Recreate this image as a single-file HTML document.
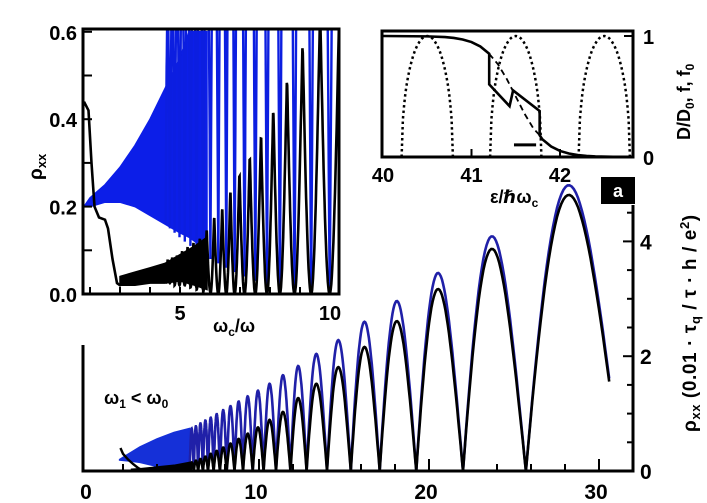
<!DOCTYPE html>
<html><head><meta charset="utf-8"><style>
html,body{margin:0;padding:0;background:#fff;}
svg{display:block;font-family:"Liberation Sans","DejaVu Sans",sans-serif;font-weight:bold;}
</style></head><body>
<svg id="fig" width="707" height="503" viewBox="0 0 707 503" xmlns="http://www.w3.org/2000/svg">
<defs>
<clipPath id="c1"><rect x="84" y="30" width="254" height="263"/></clipPath>
<clipPath id="c2"><rect x="383" y="32" width="249" height="124"/></clipPath>
</defs>
<g id="main"></g>
<g id="in1"></g>
<g id="in2"></g>
</svg>
<script>
// ---------- MAIN CHART DATA ----------
const mainZeros=[31.3,25.7,22.0,19.25,17.1,15.4,14.0,12.8,11.85,11.0,10.27,9.63,9.06,8.56,8.1,7.7,7.33,7.0,6.7,6.42,6.16,5.92];
const mainBluePeaks=[4.98,4.09,3.45,2.96,2.6,2.28,2.04,1.83,1.67,1.52,1.40,1.30,1.21,1.13,1.06,0.99,0.93,0.88,0.83,0.78,0.74];
const mainBlackPeaks=[4.81,3.87,3.17,2.61,2.16,1.81,1.52,1.27,1.03,0.89,0.76,0.65,0.56,0.48,0.41,0.35,0.30,0.25,0.21,0.18,0.15];
const mainEndX=[30.6];
const mainBandX=[1.8,2.5,3,4,5,5.92];
const mainBlueTop=[0.2,0.33,0.42,0.56,0.67,0.74];
const mainBlueBot=[0.19,0.17,0.15,0.08,0.03,0.0];
const mainBlackBandX=[2.5,3,4,5,5.92];
const mainBlackTop=[0.03,0.04,0.07,0.1,0.15];
const mainSpikeX=[1.85,2.0,2.3,2.6,2.9,3.1];
const mainSpikeY=[0.4,0.3,0.2,0.12,0.05,0.02];
const mainXTicks=[0,10,20,30];
const mainYTicks=[0,2,4];
// ---------- INSET 1 DATA ----------
const in1Peaks=[10.33,9.67,9.09,8.56,8.11,7.70,7.33,6.98,6.67,6.42,6.14,5.89,5.66,5.45,5.25,5.07,4.9,4.74,4.59];
const in1BlackH=[0.72,0.65,0.58,0.50,0.43,0.37,0.32,0.28,0.24,0.20,0.18,0.15,0.13,0.12,0.11,0.10,0.09,0.085,0.08];
const in1BlackMin=[0,0,0,0,0,0,0,0,0,0,0,0.005,0.01,0.015,0.02,0.02,0.02,0.025,0.025];
const in1BlueH=[2,2,2,1.8,1.7,1.6,1.5,1.4,1.3,1.2,1.1,1.0,0.95,0.9,0.85,0.8,0.75,0.7,0.66];
const in1BlueMin=[0,0,0,0.01,0.02,0.03,0.04,0.05,0.06,0.07,0.08,0.09,0.1,0.11,0.12,0.13,0.14,0.15,0.16];
const in1BandX=[1.8,2,2.5,3,3.5,4,4.5,5,5.3,5.9];
const in1BlueTop=[0.2,0.22,0.25,0.29,0.34,0.40,0.47,0.54,0.6,0.6];
const in1BlueBot=[0.2,0.2,0.21,0.21,0.2,0.18,0.16,0.14,0.13,0.1];
const in1BlackBandX=[3,3.5,4,4.5,5,5.5,5.9];
const in1BlackTop=[0.04,0.05,0.06,0.07,0.09,0.11,0.13];
const in1BlackBot=[0.02,0.02,0.025,0.025,0.03,0.02,0.01];
const in1SpikeX=[1.8,1.95,2.05,2.15,2.3,2.5,2.6,2.75,2.9,3.0,3.3,3.6];
const in1SpikeY=[0.44,0.42,0.3,0.2,0.175,0.17,0.15,0.08,0.025,0.02,0.035,0.04];
const in1XTicks=[5,10];
const in1YTicks=[0,0.2,0.4,0.6];
// ---------- INSET 2 DATA ----------
const fermiE=[40,40.5,40.7,40.8,40.9,41.0,41.1,41.2,41.3,41.4,41.5,41.6,41.7,41.77,41.8,41.9,42.0,42.1,42.2,42.3,42.4,42.6,42.84];
const fermiF=[1.0,0.997,0.991,0.984,0.971,0.95,0.913,0.853,0.765,0.643,0.5,0.357,0.235,0.18,0.147,0.087,0.05,0.029,0.016,0.009,0.005,0.002,0.001];
const sawE=[41.2,41.2,41.43,41.47,41.77,41.77];
const sawF=[0.853,0.6,0.42,0.55,0.38,0.18];
const dosCenters=[40.5,41.5,42.5];
const dosHalfWidth=[0.29];
const scaleBarE=[41.48,41.73];
const scaleBarY=[0.1];
const in2XTicks=[40,41,42];
const in2YTicks=[0,1];

const NS='http://www.w3.org/2000/svg';
function mk(parent,tag,attrs,text){const e=document.createElementNS(NS,tag);for(const k in attrs)e.setAttribute(k,attrs[k]);if(text!==undefined)e.textContent=text;parent.appendChild(e);return e;}

// ===== MAIN =====
const MX=x=>89+17*x, MY=v=>471-57.4*v;
const gm=document.getElementById('main');
function band(g,xs,top,bot,X,Y,color,name){
  let d='';xs.forEach((x,i)=>{d+=(i?'L':'M')+X(x).toFixed(1)+' '+Y(top[i]).toFixed(1);});
  for(let i=xs.length-1;i>=0;i--)d+='L'+X(xs[i]).toFixed(1)+' '+Y(bot[i]).toFixed(1);
  const p=mk(g,'path',{d:d+'Z',fill:color,stroke:color,'stroke-width':1.5});
  
  
}
function archPath(zeros,peaks,X,Y,endX,mins,shape){
  let d='';
  for(let i=0;i<peaks.length;i++){
    const a=zeros[i],b=zeros[i+1];
    const ia=1/a,ib=1/b;
    const xa=(i===0&&endX)?endX:a;
    const N=40;
    for(let k=0;k<=N;k++){
      const x=xa+(b-xa)*k/N;
      const ph=(1/x-ia)/(ib-ia);
      const m=mins?mins[i]:0;
      const s=shape==='cusp'?(1-Math.abs(Math.cos(Math.PI*ph))):Math.abs(Math.sin(Math.PI*ph));
      const v=m+(peaks[i]-m)*s;
      d+=((i===0&&k===0)?'M':'L')+X(x).toFixed(1)+' '+Y(v).toFixed(1);
    }
  }
  return d;
}
band(gm,mainBandX,mainBlueTop,mainBlueBot,MX,MY,'#1530d8','main-blue-dense-band');
{const p=mk(gm,'path',{d:archPath(mainZeros,mainBluePeaks,MX,MY,mainEndX[0]),fill:'none',stroke:'#2020a8','stroke-width':2.6});
}
band(gm,mainBlackBandX,mainBlackTop,mainBlackTop.map(()=>0),MX,MY,'#000','main-black-dense-band');
{const p=mk(gm,'path',{d:archPath(mainZeros,mainBlackPeaks,MX,MY,mainEndX[0]),fill:'none',stroke:'#000','stroke-width':2.6});
}
{let d='';mainSpikeX.forEach((x,i)=>{d+=(i?'L':'M')+MX(x)+' '+MY(mainSpikeY[i]);});
const p=mk(gm,'path',{d,fill:'none',stroke:'#000','stroke-width':2.4});
}
// axes
{const a=mk(gm,'path',{d:'M83 345 L83 471 L633 471 L633 205',fill:'none',stroke:'#000','stroke-width':3});
}
for(let x=2;x<=32;x+=2){const t=mk(gm,'line',{x1:MX(x),x2:MX(x),y1:471,y2:(x%10===0)?459:464,stroke:'#000','stroke-width':2});
}
for(let v=0.5;v<=4.5;v+=0.5){const t=mk(gm,'line',{x1:633,x2:(v%2===0)?623:627,y1:MY(v),y2:MY(v),stroke:'#000','stroke-width':2});
}
mainXTicks.forEach(v=>{const t=mk(gm,'text',{x:MX(v)-3,y:499,'font-size':21,'text-anchor':'middle'},String(v));
});
mainYTicks.forEach(v=>{const t=mk(gm,'text',{x:640,y:MY(v)+8,'font-size':21},String(v));
});
{const t=mk(gm,'text',{x:0,y:0,'font-size':19,'letter-spacing':'0.6',transform:'translate(696,432) rotate(-90)'});
t.innerHTML='ρ<tspan font-size="13" dy="4">xx</tspan><tspan dy="-4">  (0.01 · τ</tspan><tspan font-size="13" dy="4">q</tspan><tspan dy="-4"> / τ · h / e</tspan><tspan font-size="13" dy="-7">2</tspan><tspan dy="7">)</tspan>';
}
{const t=mk(gm,'text',{x:104,y:404,'font-size':18});
t.innerHTML='ω<tspan font-size="12" dy="4">1</tspan><tspan dy="-4"> &lt; ω</tspan><tspan font-size="12" dy="4">0</tspan>';
}
{const r=mk(gm,'rect',{x:601,y:177,width:34,height:27,fill:'#000'});

const t=mk(gm,'text',{x:618,y:197,'font-size':18,fill:'#fff','text-anchor':'middle'},'a');
}

// ===== INSET 1 =====
const AX=x=>30+30*x, AY=v=>294-437*v;
const g1=document.getElementById('in1');
{const r=mk(g1,'rect',{x:83,y:29,width:256,height:265,fill:'#fff'});}
const g1c=mk(g1,'g',{'clip-path':'url(#c1)'});

const in1Zeros=[];
{const inv=in1Peaks.map(p=>1/p);in1Zeros.push(1/(inv[0]-(inv[1]-inv[0])/2));
for(let i=0;i<inv.length-1;i++)in1Zeros.push(2/(inv[i]+inv[i+1]));
const n=inv.length;in1Zeros.push(1/(inv[n-1]+(inv[n-1]-inv[n-2])/2));}
band(g1c,in1BandX,in1BlueTop,in1BlueBot,AX,AY,'#0c1ee8','inset1-blue-dense-band');
{const p=mk(g1c,'path',{d:archPath(in1Zeros,in1BlueH,AX,AY,null,in1BlueMin),fill:'none',stroke:'#0c1ee0','stroke-width':2.4});
}
band(g1c,in1BlackBandX,in1BlackTop,in1BlackBot,AX,AY,'#000','inset1-black-dense-band');
{const p=mk(g1c,'path',{d:archPath(in1Zeros,in1BlackH,AX,AY,null,in1BlackMin,'cusp'),fill:'none',stroke:'#000','stroke-width':2.6});
}
{let d='';in1SpikeX.forEach((x,i)=>{d+=(i?'L':'M')+AX(x)+' '+AY(in1SpikeY[i]);});
const p=mk(g1c,'path',{d,fill:'none',stroke:'#000','stroke-width':2.6});
}
{const r=mk(g1,'rect',{x:83,y:29,width:256,height:265,fill:'none',stroke:'#000','stroke-width':3});
}
for(let x=2;x<=10;x++){const t=mk(g1,'line',{x1:AX(x),x2:AX(x),y1:294,y2:287,stroke:'#000','stroke-width':2});
}
for(let v=0.1;v<=0.61;v+=0.1){const t=mk(g1,'line',{x1:83,x2:92,y1:AY(v),y2:AY(v),stroke:'#000','stroke-width':2});
}
in1XTicks.forEach(v=>{const t=mk(g1,'text',{x:AX(v),y:320,'font-size':20,'text-anchor':'middle'},String(v));
});
in1YTicks.forEach(v=>{const t=mk(g1,'text',{x:77,y:AY(v)+8,'font-size':20,'text-anchor':'end'},v.toFixed(1));
});
{const t=mk(g1,'text',{x:213,y:332,'font-size':18});
t.innerHTML='ω<tspan font-size="12" dy="4">c</tspan><tspan dy="-4">/ω</tspan>';
}
{const t=mk(g1,'text',{x:0,y:0,'font-size':19,transform:'translate(42,180) rotate(-90)'});
t.innerHTML='ρ<tspan font-size="13" dy="4">xx</tspan>';
}

// ===== INSET 2 =====
const BX=e=>383+88.5*(e-40), BY=v=>157-121*v;
const g2=document.getElementById('in2');
{const r=mk(g2,'rect',{x:382,y:31,width:251,height:126,fill:'#fff'});}
const g2c=mk(g2,'g',{'clip-path':'url(#c2)'});

dosCenters.forEach(c=>{let d='';const w=dosHalfWidth[0];
for(let k=0;k<=40;k++){const e=c-w+2*w*k/40;const u=(e-c)/w;const v=Math.sqrt(Math.max(0,1-u*u));d+=(k?'L':'M')+BX(e).toFixed(1)+' '+BY(v).toFixed(1);}
const p=mk(g2c,'path',{d,fill:'none',stroke:'#000','stroke-width':2.5,'stroke-dasharray':'2.5 3'});
});
{let d1='',d2='',d3='';
fermiE.forEach((e,i)=>{if(e<=41.2)d1+=(d1?'L':'M')+BX(e)+' '+BY(fermiF[i]);
 if(e>=41.2&&e<=41.77)d2+=(d2?'L':'M')+BX(e)+' '+BY(fermiF[i]);
 if(e>=41.77)d3+=(d3?'L':'M')+BX(e)+' '+BY(fermiF[i]);});
let ds='';sawE.forEach((e,i)=>{ds+=(i?'L':'M')+BX(e)+' '+BY(sawF[i]);});
const p1=mk(g2c,'path',{d:d1+ds.replace('M','L')+d3.replace('M','L'),fill:'none',stroke:'#000','stroke-width':2.6});

const p2=mk(g2c,'path',{d:d2,fill:'none',stroke:'#000','stroke-width':1.8,'stroke-dasharray':'6 4'});
}
{const l=mk(g2c,'line',{x1:BX(scaleBarE[0]),x2:BX(scaleBarE[1]),y1:BY(scaleBarY[0]),y2:BY(scaleBarY[0]),stroke:'#000','stroke-width':3});
}
{const r=mk(g2,'rect',{x:382,y:31,width:251,height:126,fill:'none',stroke:'#000','stroke-width':3});
}
[41,42].forEach(e=>{const t=mk(g2,'line',{x1:BX(e),x2:BX(e),y1:157,y2:149,stroke:'#000','stroke-width':2});
});
{const t=mk(g2,'line',{x1:633,x2:624,y1:BY(1),y2:BY(1),stroke:'#000','stroke-width':2});
}
in2XTicks.forEach(v=>{const t=mk(g2,'text',{x:BX(v),y:182,'font-size':20,'text-anchor':'middle'},String(v));
});
in2YTicks.forEach(v=>{const t=mk(g2,'text',{x:643,y:BY(v)+8,'font-size':20},String(v));
});
{const t=mk(g2,'text',{x:490,y:203,'font-size':18});
t.innerHTML='ε/ℏω<tspan font-size="12" dy="4">c</tspan>';
}
{const t=mk(g2,'text',{x:0,y:0,'font-size':18,transform:'translate(690,140) rotate(-90)'});
t.innerHTML='D/D<tspan font-size="12" dy="4">0</tspan><tspan dy="-4">, f, f</tspan><tspan font-size="12" dy="4">0</tspan>';
}
</script>
</body></html>
